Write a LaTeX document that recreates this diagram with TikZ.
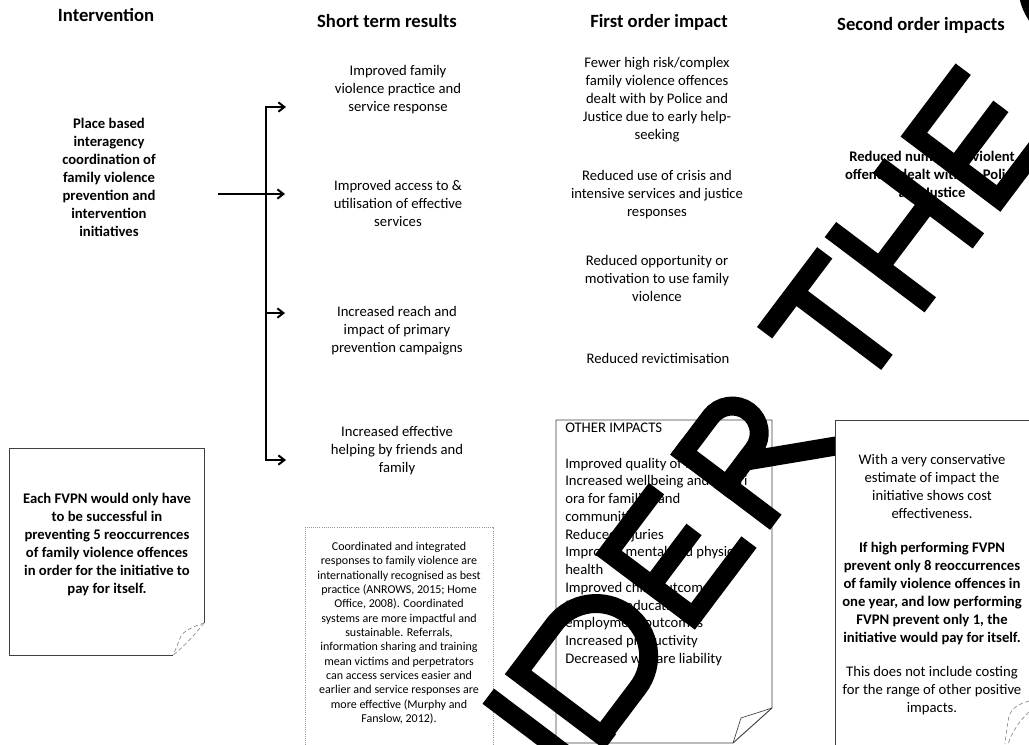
\documentclass[tikz,border=0pt]{standalone}
\usepackage{fontspec}
\setmainfont{Carlito}
\usetikzlibrary{arrows.meta}
\begin{document}
\begin{tikzpicture}[x=0.75pt,y=-0.75pt,
  hdr/.style={font=\fontsize{14}{17}\selectfont\bfseries, anchor=base, inner sep=0pt},
  body/.style={font=\fontsize{11}{13.5}\selectfont, align=center, inner sep=0pt},
  bbody/.style={body, font=\fontsize{11}{13.5}\selectfont\bfseries},
  small/.style={font=\fontsize{9}{10.75}\selectfont, align=center, inner sep=0pt},
  conn/.style={line width=1.5pt},
  arr/.style={conn, -{Straight Barb[length=4.5pt,width=7pt]}},
  note/.style={draw=black!75, line width=0.7pt},
  fold/.style={draw=black!45, line width=0.5pt, densely dashed},
  dotbox/.style={draw=black!40, line width=0.6pt, densely dotted},
  wm/.style={draw=black, line width=14.25pt},
]
\useasboundingbox (0,0) rectangle (1029,744);
\fill[white] (0,0) rectangle (1029,744);

% headers
\node[hdr] (hInt) at (106,21) {Intervention};
\node[hdr] (hST) at (387,27) {Short term results};
\node[hdr] (hFO) at (659,27) {First order impact};
\node[hdr] (hSO) at (921,30) {Second order impacts};

% intervention
\node[bbody] (int) at (109,177) {Place based\\interagency\\coordination of\\family violence\\prevention and\\intervention\\initiatives};

% short term results
\node[body] (st1) at (398,90) {Improved family\\violence practice and\\service response};
\node[body] (st2) at (398,203) {Improved access to \&\\utilisation of effective\\services};
\node[body] (st3) at (397,331) {Increased reach and\\impact of primary\\prevention campaigns};
\node[body] (st4) at (397,451) {Increased effective\\helping by friends and\\family};

% first order
\node[body] (fo1) at (657,100) {Fewer high risk/complex\\family violence offences\\dealt with by Police and\\Justice due to early help-\\seeking};
\node[body] (fo2) at (657,195) {Reduced use of crisis and\\intensive services and justice\\responses};
\node[body] (fo3) at (657,278) {Reduced opportunity or\\motivation to use family\\violence};
\node[body] (fo4) at (658,358) {Reduced revictimisation};

% second order
\node[bbody] (so1) at (932,174) {Reduced number of violent\\offences dealt with by Police\\and Justice};

% connectors
\coordinate (busTop) at (266,107);
\coordinate (bus3) at (266,313);
\coordinate (busBot) at (266,460);
\coordinate (iStart) at (218,194);
\coordinate (t1) at (286,107);
\coordinate (t2) at (285,194);
\coordinate (t3) at (285,313);
\coordinate (t4) at (286,460);
\draw[arr] (bus3) -- (busTop) -- (t1);
\draw[arr] (bus3) -- (busBot) -- (t4);
\draw[arr] (bus3) -- (t3);
\draw[arr] (iStart) -- (t2);

% left note
\draw[note] (173,655) -- (9,655) -- (9,448) -- (204,448) -- (204,623);
\draw[fold] (204,623) .. controls (192,627) and (184,631) .. (181,636) .. controls (178,643) and (176,649) .. (173,655);
\draw[fold] (204,623) .. controls (196,633) and (186,645) .. (173,655);
\node[bbody] (lnote) at (107,544) {Each FVPN would only have\\to be successful in\\preventing 5 reoccurrences\\of family violence offences\\in order for the initiative to\\pay for itself.};

% citation box
\draw[dotbox] (305,760) -- (305,527) -- (493,527) -- (493,760);
\node[small] (cite) at (399,633) {Coordinated and integrated\\responses to family violence are\\internationally recognised as best\\practice (ANROWS, 2015; Home\\Office, 2008). Coordinated\\systems are more impactful and\\sustainable. Referrals,\\information sharing and training\\mean victims and perpetrators\\can access services easier and\\earlier and service responses are\\more effective (Murphy and\\Fanslow, 2012).};

% other impacts box
\draw[note] (733,743) -- (556,743) -- (556,420) -- (772,420) -- (772,708) -- cycle;
\draw[note, line width=0.5pt] (772,708) .. controls (760,712) and (750,715) .. (741,718) -- (733,743);
\node[body, align=left, anchor=north west, font=\fontsize{11}{13.3}\selectfont] (oi) at (565,423) {OTHER IMPACTS\\[13.3pt]Improved quality of life\\Increased wellbeing and mauri\\ora for families and\\communities\\Reduced injuries\\Improved mental and physical\\health\\Improved child outcomes\\Improved education and\\employment outcomes\\Increased productivity\\Decreased welfare liability};

% watermark: THE
\begin{scope}[shift={(757,327)}, rotate=53]
  \draw[wm] (0,9.5) -- (100,9.5) (50,0) -- (50,125);
  \draw[wm] (122,0) -- (122,125) (202,0) -- (202,125) (122,62) -- (202,62);
  \draw[wm] (248,0) -- (248,125) (238.5,9.5) -- (330,9.5) (238.5,62) -- (323,62) (238.5,115.5) -- (340,115.5);
  \draw[wm] (459,56) ellipse (45 and 53);
\end{scope}
% watermark: IDER
\begin{scope}[shift={(676,447)}, rotate=53]
  % R
  \draw[wm] (0,0) -- (0,125);
  \draw[wm] (-9.5,9.5) -- (45,9.5) arc (-90:90:27) -- (-9.5,63.5);
  \draw[wm] (30,63.5) -- (98,128);
  % E
  \draw[wm] (-125,0) -- (-125,125) (-134.5,9.5) -- (-45,9.5) (-134.5,64) -- (-55,64) (-134.5,115.5) -- (-32,115.5);
  % D
  \draw[wm] (-275,0) -- (-275,125) (-284.5,9.5) -- (-215,9.5) arc (-90:90:52.5) -- (-284.5,114.5);
  % I
  \draw[wm] (-312,0) -- (-312,125);
\end{scope}

% right box
\fill[white] (835,420) rectangle (1040,760);
\draw[note] (1040,420) -- (835,420) -- (835,760);
\draw[fold] (1029,701) .. controls (1018,704) and (1011,709) .. (1009,716) .. controls (1007,726) and (1006,735) .. (1005,744);
\draw[fold] (1029,712) .. controls (1020,720) and (1012,732) .. (1008,744);
\node[body] (rb1) at (932,486) {With a very conservative\\estimate of impact the\\initiative shows cost\\effectiveness.};
\node[bbody] (rb2) at (932,593) {If high performing FVPN\\prevent only 8 reoccurrences\\of family violence offences in\\one year, and low performing\\FVPN prevent only 1, the\\initiative would pay for itself.};
\node[body] (rb3) at (932,691) {This does not include costing\\for the range of other positive\\impacts.};
\end{tikzpicture}
\end{document}
